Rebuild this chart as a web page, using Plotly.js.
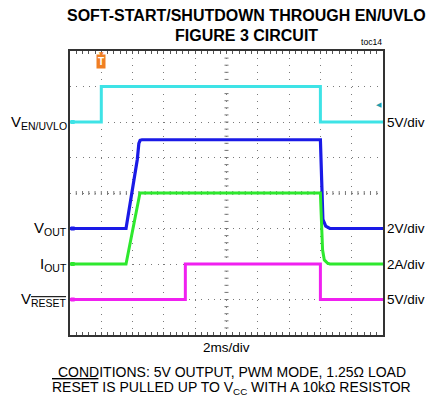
<!DOCTYPE html>
<html>
<head>
<meta charset="utf-8">
<script src="https://cdn.plot.ly/plotly-3.0.1.min.js"></script>
<style>
  html, body { margin: 0; padding: 0; background: #fff; }
  #chart { width: 442px; height: 402px; }
</style>
</head>
<body>
<div id="chart"></div>
<script>
// Time axis in ms (2 ms/div, trigger at 0)
const timeRange = [-2, 18];

// V_EN/UVLO (V), 5 V/div
const timeEN = [-2, 0, 0, 14.0, 14.0, 18];
const vEN    = [0, 0, 5, 5, 0, 0];

// V_OUT (V), 2 V/div
const timeOUT = [-2, 1.58, 2.30, 2.40, 2.48, 2.60, 14.0, 14.04, 14.07, 14.10, 14.16, 14.34, 14.60, 18];
const vOUT    = [0, 0, 3.89, 4.80, 4.97, 5.0, 5.0, 3.9, 2.0, 1.07, 0.51, 0.13, 0.0, 0];

// I_OUT (A), 2 A/div
const timeI = [-2, 1.58, 2.47, 14.0, 14.04, 14.08, 14.14, 14.25, 14.46, 14.60, 18];
const iOUT  = [0, 0, 4.0, 4.0, 3.04, 2.10, 0.79, 0.23, 0.04, 0.0, 0];

// V_RESET (V), 5 V/div
const timeRST = [-2, 5.37, 5.37, 14.0, 14.0, 18];
const vRST    = [0, 0, 5, 5, 0, 0];

// channel labels / scales
const chanLabels = ['V<sub>EN/UVLO</sub>', 'V<sub>OUT</sub>', 'I<sub>OUT</sub>',
                    'V<sub><span style="text-decoration:overline">RESET</span></sub>'];
const chanScales = ['5V/div', '2V/div', '2A/div', '5V/div'];
const chanColors = ['#3ee3e6', '#1a1ae6', '#2ee82e', '#f020f0'];
const chanAxes   = ['y', 'y2', 'y3', 'y4'];
const trigLevel  = 2.4; // V on EN/UVLO

const FONT = 'Arial, "Liberation Sans", sans-serif';

const traces = [
  {x: timeEN, y: vEN, yaxis: 'y', mode: 'lines', line: {color: chanColors[0], width: 3}},
  {x: timeOUT, y: vOUT, yaxis: 'y2', mode: 'lines', line: {color: chanColors[1], width: 3.2}},
  {x: timeI, y: iOUT, yaxis: 'y3', mode: 'lines', line: {color: chanColors[2], width: 3}},
  {x: timeRST, y: vRST, yaxis: 'y4', mode: 'lines', line: {color: chanColors[3], width: 3}}
];
// ground markers at left edge
chanAxes.forEach((ax, i) => {
  traces.push({x: [-1.83], y: [0], yaxis: ax, mode: 'markers',
    marker: {symbol: 'square', size: 4, color: chanColors[i]}, cliponaxis: false});
});

// centre cross tick marks (decoration)
const shapes = [];
for (let k = 1; k < 40; k++) {
  shapes.push({type: 'line', xref: 'paper', yref: 'paper', layer: 'below',
    x0: 0.5 - 2/313, x1: 0.5 + 2/313, y0: k/40, y1: k/40,
    line: {color: '#777', width: 1}});
}
for (let k = 1; k < 50; k++) {
  shapes.push({type: 'line', xref: 'paper', yref: 'paper', layer: 'below',
    x0: k/50, x1: k/50, y0: 0.5 - 2/284, y1: 0.5 + 2/284,
    line: {color: '#777', width: 1}});
}

const annotations = [
  {text: '<b>SOFT-START/SHUTDOWN THROUGH EN/UVLO</b>', xref: 'paper', yref: 'paper',
   x: 0.565, y: 1.125, xanchor: 'center', yanchor: 'middle', showarrow: false,
   font: {family: FONT, size: 16, color: '#000'}},
  {text: '<b>FIGURE 3 CIRCUIT</b>', xref: 'paper', yref: 'paper',
   x: 0.565, y: 1.0546, xanchor: 'center', yanchor: 'middle', showarrow: false,
   font: {family: FONT, size: 16, color: '#000'}},
  {text: 'toc14', xref: 'paper', yref: 'paper', x: 1.004, y: 1.032,
   xanchor: 'right', yanchor: 'middle', showarrow: false,
   font: {family: FONT, size: 8.6, color: '#000'}},
  {text: '2ms/div', xref: 'paper', yref: 'paper', x: 0.5, y: -0.0423,
   xanchor: 'center', yanchor: 'middle', showarrow: false,
   font: {family: FONT, size: 13.5, color: '#000'}},
  {text: 'CONDITIONS: 5V OUTPUT, PWM MODE, 1.25\u03A9 LOAD', xref: 'paper', yref: 'paper',
   x: 0.519, y: -0.130, xanchor: 'center', yanchor: 'middle', showarrow: false,
   font: {family: FONT, size: 14, color: '#000'}},
  {text: '<span style="text-decoration:overline">RESET</span> IS PULLED UP TO V<sub>CC</sub> WITH A 10k\u03A9 RESISTOR',
   xref: 'paper', yref: 'paper', x: 0.516, y: -0.1866, xanchor: 'center', yanchor: 'middle',
   showarrow: false, font: {family: FONT, size: 14, color: '#000'}},
  // trigger position marker
  {text: '\u25BC', xref: 'x', yref: 'paper', x: 0, y: 0.992, xanchor: 'center', yanchor: 'middle',
   showarrow: false, font: {family: 'DejaVu Sans', size: 6, color: '#f07f22'}},
  {text: '<b>T</b>', xref: 'x', yref: 'paper', x: 0, y: 0.962, xanchor: 'center', yanchor: 'middle',
   showarrow: false, bgcolor: '#f07f22', borderpad: 1,
   font: {family: FONT, size: 10, color: '#fff'}},
  // trigger level marker
  {text: '\u25C0', xref: 'paper', yref: 'y', x: 0.988, y: trigLevel, xanchor: 'center', yanchor: 'middle',
   showarrow: false, font: {family: 'DejaVu Sans', size: 7, color: '#1e9fb0'}}
];
chanAxes.forEach((ax, i) => {
  annotations.push({text: chanLabels[i], xref: 'paper', yref: ax, x: -0.004, y: 0,
    xanchor: 'right', yanchor: 'middle', showarrow: false,
    font: {family: FONT, size: 15, color: '#000'}});
  annotations.push({text: chanScales[i], xref: 'paper', yref: ax, x: 1.006, y: 0,
    xanchor: 'left', yanchor: 'middle', showarrow: false,
    font: {family: FONT, size: 13.5, color: '#000'}});
});

const hidden = {overlaying: 'y', showgrid: false, showline: false, zeroline: false,
  showticklabels: false, ticks: '', fixedrange: true};
const layout = {
  width: 442, height: 402,
  margin: {l: 70, r: 59, t: 51, b: 67, pad: 0},
  paper_bgcolor: '#fff', plot_bgcolor: 'rgba(0,0,0,0)',
  showlegend: false,
  xaxis: {range: timeRange, tick0: -2, dtick: 2, showticklabels: false,
    showgrid: true, gridcolor: '#7a7a7a', gridwidth: 1, griddash: '1px,6.1px',
    zeroline: false, showline: true, linecolor: '#333', linewidth: 2, mirror: 'allticks',
    ticks: 'inside', ticklen: 3, tickcolor: '#555',
    minor: {dtick: 0.4, ticks: 'inside', ticklen: 3, tickcolor: '#555', showgrid: false},
    fixedrange: true},
  // main axis = EN/UVLO channel, 5 V/div, ground at 6th division
  yaxis: {range: [-30, 10], tick0: 0, dtick: 5, showticklabels: false,
    showgrid: true, gridcolor: '#7a7a7a', gridwidth: 1, griddash: '1px,5.26px',
    zeroline: false, showline: true, linecolor: '#333', linewidth: 2, mirror: true,
    ticks: '', fixedrange: true},
  yaxis2: Object.assign({range: [-6, 10]}, hidden),
  yaxis3: Object.assign({range: [-4, 12]}, hidden),
  yaxis4: Object.assign({range: [-5, 35]}, hidden),
  shapes: shapes,
  annotations: annotations
};

Plotly.newPlot('chart', traces, layout, {staticPlot: true, displayModeBar: false});
</script>
</body>
</html>
